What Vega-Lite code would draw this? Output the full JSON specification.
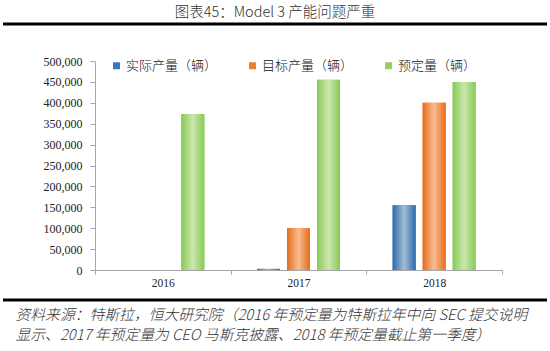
{
  "$schema": "https://vega.github.io/schema/vega-lite/v6.json",
  "autosize": "none",
  "width": 544,
  "height": 276,
  "padding": {"left": 3, "top": 24, "right": 3, "bottom": 51},
  "background": "white",
  "config": {"view": {"stroke": null}},
  "title": {
    "text": "图表45：Model 3 产能问题严重",
    "font": "Noto Sans CJK SC",
    "fontSize": 14.5,
    "fontWeight": 300,
    "color": "#333333",
    "anchor": "middle",
    "offset": 2
  },
  "datasets": {
    "bars": [
      {"year": "2016", "series": "预定量（辆）", "value": 373000},
      {"year": "2017", "series": "实际产量（辆）", "value": 2700},
      {"year": "2017", "series": "目标产量（辆）", "value": 100000},
      {"year": "2017", "series": "预定量（辆）", "value": 455000},
      {"year": "2018", "series": "实际产量（辆）", "value": 155000},
      {"year": "2018", "series": "目标产量（辆）", "value": 400000},
      {"year": "2018", "series": "预定量（辆）", "value": 450000}
    ],
    "frame": [{"pos": "top"}, {"pos": "bottom"}]
  },
  "layer": [
    {
      "data": {"name": "bars"},
      "layer": [
        {
          "mark": {"type": "bar"},
          "encoding": {
            "color": {
              "field": "series", "type": "nominal",
              "scale": {
                "domain": ["实际产量（辆）", "目标产量（辆）", "预定量（辆）"],
                "range": ["#3A78B8", "#EE7E33", "#96CF63"]
              },
              "legend": {
                "orient": "none",
                "direction": "horizontal",
                "legendX": 107,
                "legendY": 35,
                "title": null,
                "symbolType": "square",
                "symbolSize": 49,
                "symbolStrokeWidth": 0,
                "symbolOpacity": 1,
                "labelFont": "Noto Sans CJK SC",
                "labelFontSize": 13,
                "labelFontWeight": 300,
                "labelColor": "#111111",
                "labelOffset": 3,
                "columnPadding": 28,
                "labelLimit": 200
              }
            }
          }
        },
        {
          "mark": {"type": "bar"},
          "encoding": {
            "fill": {
              "condition": [
                {"test": "datum.series === '实际产量（辆）'", "value": {"gradient": "linear", "x1": 0, "y1": 0, "x2": 1, "y2": 0, "stops": [{"offset": 0, "color": "#2A6BB0"}, {"offset": 0.5, "color": "#A5BED3"}, {"offset": 1, "color": "#2A6BB0"}]}},
                {"test": "datum.series === '目标产量（辆）'", "value": {"gradient": "linear", "x1": 0, "y1": 0, "x2": 1, "y2": 0, "stops": [{"offset": 0, "color": "#E56C1A"}, {"offset": 0.5, "color": "#F9BC90"}, {"offset": 1, "color": "#E56C1A"}]}}
              ],
              "value": {"gradient": "linear", "x1": 0, "y1": 0, "x2": 1, "y2": 0, "stops": [{"offset": 0, "color": "#88C956"}, {"offset": 0.5, "color": "#CBE7AD"}, {"offset": 1, "color": "#88C956"}]}
            }
          }
        }
      ],
      "encoding": {
        "x": {
          "field": "year", "type": "nominal",
          "scale": {"range": [92, 499], "paddingInner": 0, "paddingOuter": 0},
          "axis": {
            "offset": -30,
            "labelAngle": 0,
            "labelFont": "Liberation Serif",
            "labelFontSize": 11.5,
            "labelColor": "#222222",
            "labelPadding": 3,
            "domainColor": "#a6a6a6",
            "tickColor": "#a6a6a6",
            "tickSize": 4,
            "tickBand": "extent",
            "title": [
              "资料来源：特斯拉，恒大研究院（2016 年预定量为特斯拉年中向 SEC 提交说明",
              "显示、2017 年预定量为 CEO 马斯克披露、2018 年预定量截止第一季度）"
            ],
            "titleFont": "Noto Sans CJK SC",
            "titleFontSize": 14.8,
            "titleFontStyle": "italic",
            "titleFontWeight": 300,
            "titleColor": "#333333",
            "titleAlign": "left",
            "titleBaseline": "alphabetic",
            "titleAngle": 0,
            "titleX": 12,
            "titleY": 49,
            "titleLineHeight": 20
          }
        },
        "xOffset": {
          "field": "series", "type": "nominal",
          "sort": ["实际产量（辆）", "目标产量（辆）", "预定量（辆）"],
          "scale": {"domain": ["实际产量（辆）", "目标产量（辆）", "预定量（辆）"], "paddingInner": 0.233, "paddingOuter": 0.877}
        },
        "y": {
          "field": "value", "type": "quantitative",
          "scale": {"domain": [0, 500000], "range": [246, 37], "nice": false},
          "axis": {
            "offset": -92,
            "values": [0, 50000, 100000, 150000, 200000, 250000, 300000, 350000, 400000, 450000, 500000],
            "format": ",d",
            "grid": false,
            "title": null,
            "labelFont": "Liberation Serif",
            "labelFontSize": 12,
            "labelColor": "#222222",
            "labelPadding": 8,
            "domainColor": "#a6a6a6",
            "tickColor": "#a6a6a6",
            "tickSize": 5
          }
        }
      }
    },
    {
      "data": {"name": "frame"},
      "mark": {"type": "rule", "color": "#000000", "strokeWidth": 3},
      "encoding": {
        "y": {
          "field": "pos", "type": "ordinal",
          "sort": ["top", "bottom"],
          "scale": {"type": "point", "padding": 0},
          "axis": null
        }
      }
    }
  ],
  "resolve": {"scale": {"y": "independent"}, "axis": {"y": "independent"}}
}
